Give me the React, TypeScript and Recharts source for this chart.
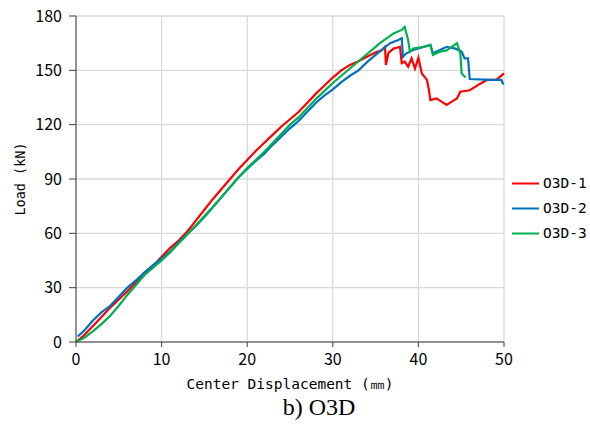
import React from 'react';
import {
  LineChart,
  Line,
  XAxis,
  YAxis,
  CartesianGrid,
  Legend
} from 'recharts';

// [displacement mm, load kN]
const o3d1 = [
  [0, 0], [1, 4], [2, 9], [3, 14], [4, 19], [5, 23.5], [6, 28], [7, 33], [8, 38], [9, 42],
  [10, 47], [11, 52], [12, 56], [13, 61], [14, 67], [15, 73], [16, 79], [17, 84.5], [18, 90],
  [19, 95.5], [20, 100.5], [21, 105.5], [22, 110], [23, 114.5], [24, 119], [25, 123], [26, 127],
  [27, 132], [28, 137], [29, 141.5], [30, 146], [31, 150], [32, 153], [33, 155], [34, 157.5],
  [35, 160], [35.7, 161], [36.1, 163], [36.2, 153], [36.5, 159.6], [37.1, 162], [37.85, 163],
  [38.05, 154], [38.4, 154.8], [38.8, 152], [39.2, 156.6], [39.6, 151], [40, 157], [40.4, 148.3],
  [41, 144.7], [41.2, 140], [41.4, 133.6], [42.1, 134.5], [42.7, 132.7], [43.3, 130.9],
  [43.9, 132.7], [44.5, 134.5], [44.9, 138.2], [46, 139], [47, 142], [48, 144.7], [49.1, 144.7],
  [50, 148.3]
];

const o3d2 = [
  [0.2, 3], [1, 6.5], [2, 12], [3, 16.5], [4, 20], [5, 25], [6, 30], [7, 34], [8, 38.5], [9, 42.5],
  [10, 46], [11, 50], [12, 55], [13, 59.5], [14, 64], [15, 69], [16, 74.5], [17, 80], [18, 85.5],
  [19, 91], [20, 95.5], [21, 100], [22, 104], [23, 109], [24, 113.5], [25, 118], [26, 122],
  [27, 127], [28, 132], [29, 136], [30, 139.5], [31, 143.5], [32, 147], [33, 150], [34, 154.5],
  [35, 158.5], [35.5, 160.5], [36.7, 165], [37.65, 166.8], [38.05, 167.7], [38.2, 157.5],
  [38.6, 159.4], [39.4, 161.2], [41.4, 164], [41.7, 159.4], [43.3, 163], [44.3, 162],
  [45.05, 160.3], [45.4, 156.6], [45.8, 156.6], [46, 145.2], [48.4, 144.7], [49.7, 144.7],
  [49.85, 142.8], [50, 142.5]
];

const o3d3 = [
  [0, 0], [1, 2.5], [2, 6], [3, 10], [4, 14.5], [5, 20], [6, 26], [7, 31.5], [8, 37], [9, 41],
  [10, 45], [11, 49.5], [12, 54.5], [13, 59.5], [14, 64.5], [15, 69.5], [16, 74.5], [17, 80],
  [18, 85.5], [19, 91], [20, 96], [21, 100.5], [22, 105], [23, 110], [24, 115], [25, 120],
  [26, 124], [27, 129], [28, 134], [29, 138.5], [30, 143], [31, 147], [32, 151], [33, 155],
  [34, 159], [35, 163], [35.5, 165], [37.1, 170.4], [38.05, 172.3], [38.4, 174], [38.8, 166.8],
  [39, 160.3], [39.4, 162], [40.6, 163], [41.4, 164], [41.7, 158.5], [42.5, 160.3], [43.3, 161],
  [44.5, 165], [44.9, 159.4], [45.05, 148.3], [45.5, 146]
];

const xTicks = [0, 10, 20, 30, 40, 50];
const yTicks = [0, 30, 60, 90, 120, 150, 180];

const toRows = (pts: number[][]) => pts.map(([x, y]) => ({ x, y }));

const tickFont = { fontSize: 16, fontFamily: '"Noto Sans CJK JP", sans-serif', fill: '#000' };
const monoFont = '"DejaVu Sans Mono", monospace';

const css =
  '.recharts-legend-icon { stroke-width: 2.4px; }' +
  '.recharts-legend-item { height: 25px; line-height: 25px; margin-right: 0 !important; }';

export default function App() {
  return (
    <div style={{ position: 'absolute', left: 0, top: 0, width: 590, height: 428, background: '#fff' }}>
      <style>{css}</style>
      <LineChart width={590} height={428} margin={{ top: 16, right: 86, left: 0, bottom: 36 }}>
        <CartesianGrid stroke="#d9d9d9" strokeWidth={1.3} />
        <XAxis
          type="number"
          dataKey="x"
          domain={[0, 50]}
          ticks={xTicks}
          height={50}
          tickSize={5}
          tickMargin={7}
          tick={tickFont}
          stroke="#404040"
          label={{
            value: 'Center Displacement (㎜)',
            position: 'insideBottom',
            offset: 3,
            style: { fontFamily: monoFont, fontSize: 14.5, fill: '#000' }
          }}
        />
        <YAxis
          type="number"
          domain={[0, 180]}
          ticks={yTicks}
          width={76}
          tickSize={7}
          tickMargin={7}
          tick={tickFont}
          stroke="#404040"
          label={{
            value: 'Load (kN)',
            angle: -90,
            position: 'insideLeft',
            offset: 20,
            style: { fontFamily: monoFont, fontSize: 13.5, fill: '#000', textAnchor: 'middle' }
          }}
        />
        <Legend
          layout="vertical"
          align="center"
          verticalAlign="middle"
          iconSize={27}
          formatter={(v: string) => <span style={{ color: '#000' }}>{v}</span>}
          wrapperStyle={{
            left: 512,
            top: 170,
            width: 78,
            whiteSpace: 'nowrap',
            fontFamily: monoFont,
            fontSize: 14.5,
            lineHeight: '25px'
          }}
        />
        <Line data={toRows(o3d1)} dataKey="y" name="O3D-1" type="linear" stroke="#ff0000" strokeWidth={2.2} dot={false} legendType="plainline" isAnimationActive={false} />
        <Line data={toRows(o3d2)} dataKey="y" name="O3D-2" type="linear" stroke="#0070c0" strokeWidth={2.2} dot={false} legendType="plainline" isAnimationActive={false} />
        <Line data={toRows(o3d3)} dataKey="y" name="O3D-3" type="linear" stroke="#00b050" strokeWidth={2.2} dot={false} legendType="plainline" isAnimationActive={false} />
      </LineChart>
      <div
        style={{
          position: 'absolute',
          left: 219,
          top: 393,
          width: 200,
          textAlign: 'center',
          fontFamily: '"Liberation Serif", "Times New Roman", serif',
          fontSize: 24,
          lineHeight: '28px',
          color: '#000'
        }}
      >
        b) O3D
      </div>
    </div>
  );
}
